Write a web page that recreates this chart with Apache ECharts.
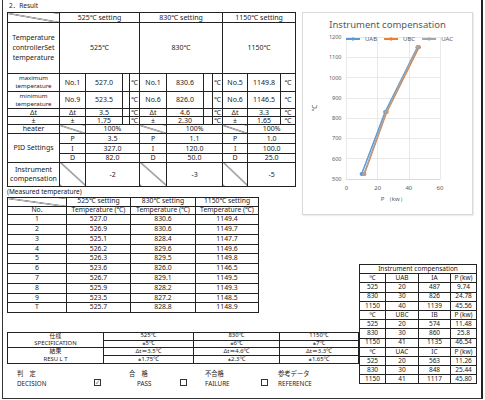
<!DOCTYPE html>
<html>
<head>
<meta charset="utf-8">
<script src="https://cdn.jsdelivr.net/npm/echarts@6/dist/echarts.min.js"></script>
<style>
html,body{margin:0;padding:0;background:#fff;}
body{width:485px;height:400px;position:relative;overflow:hidden;font-family:"Noto Sans","Noto Sans CJK JP",sans-serif;color:#222;}
.abs{position:absolute;white-space:nowrap;line-height:1;}
table{border-collapse:collapse;table-layout:fixed;position:absolute;color:#222;}
td{border:1px solid #222;padding:0;text-align:center;vertical-align:middle;overflow:hidden;white-space:nowrap;line-height:1;}
.diag{background:linear-gradient(to top right,transparent calc(50% - 0.7px),#222 50%,transparent calc(50% + 0.7px));}
.two{font-size:6.1px;line-height:1.33;}
#t1{left:7px;top:12px;font-size:7px;border:1.5px solid #111;}
#t2{left:7px;top:197px;font-size:6.8px;border:1.5px solid #111;}
#t3{left:359px;top:264px;font-size:6.5px;border:1.2px solid #111;}
#t4{left:7px;top:332px;font-size:5.9px;border:1.2px solid #111;}
#chartBox{position:absolute;left:302px;top:12px;width:171px;height:203px;box-sizing:border-box;border:1px solid #d9d9d9;box-shadow:1px 1px 1px #eee;}
#chart{width:169px;height:201px;}
.cb{position:absolute;width:5px;height:5px;border:0.8px solid #333;font-size:5px;line-height:5px;text-align:center;}
</style>
</head>
<body>
<div class="abs" style="left:2px;top:0;width:1px;height:399px;background:#333;"></div>
<div class="abs" style="left:481px;top:0;width:1.5px;height:399px;background:#222;"></div>
<div class="abs" style="left:2px;top:398px;width:481px;height:1px;background:#333;"></div>
<div class="abs" style="left:9px;top:3px;font-size:6.5px;">2．Result</div>
<div class="abs" style="left:7px;top:189px;font-size:6.5px;">(Measured temperature)</div>
<div id="chartBox"><div id="chart"></div></div>
<div id="tables"></div>
<div id="decision"></div>
<script>
// ---- data ----
const settings = ['525℃ setting', '830℃ setting', '1150℃ setting'];
const setTemps = ['525℃', '830℃', '1150℃'];
const maxNo = ['No.1', 'No.1', 'No.5'];
const maxVal = ['527.0', '830.6', '1149.8'];
const minNo = ['No.9', 'No.6', 'No.6'];
const minVal = ['523.5', '826.0', '1146.5'];
const deltaT = ['3.5', '4.6', '3.3'];
const plusMinus = ['1.75', '2.30', '1.65'];
const heater = ['100%', '100%', '100%'];
const pidP = ['3.5', '1.1', '1.0'];
const pidI = ['327.0', '120.0', '100.0'];
const pidD = ['82.0', '50.0', '25.0'];
const instComp = ['-2', '-3', '-5'];

const measuredNo = ['1', '2', '3', '4', '5', '6', '7', '8', '9', 'T'];
const measured525 = ['527.0', '526.9', '525.1', '526.2', '526.3', '523.6', '526.7', '525.9', '523.5', '525.7'];
const measured830 = ['830.6', '830.6', '828.4', '829.6', '829.5', '826.0', '829.1', '828.2', '827.2', '828.8'];
const measured1150 = ['1149.4', '1149.7', '1147.7', '1149.6', '1149.8', '1146.5', '1149.5', '1149.3', '1148.5', '1148.9'];

const compTemps = [525, 830, 1150];
const voltUAB = [20, 30, 40];
const currIA = [487, 826, 1139];
const powerUAB = [9.74, 24.78, 45.56];
const voltUBC = [20, 30, 41];
const currIB = [574, 860, 1135];
const powerUBC = [11.48, 25.8, 46.54];
const voltUAC = [20, 30, 41];
const currIC = [563, 848, 1117];
const powerUAC = [11.26, 25.44, 45.80];
const powerLabelsUAB = ['9.74', '24.78', '45.56'];
const powerLabelsUBC = ['11.48', '25.8', '46.54'];
const powerLabelsUAC = ['11.26', '25.44', '45.80'];

const specTemps = ['525℃', '830℃', '1150℃'];
const specTol = ['±5℃', '±6℃', '±7℃'];
const resultDelta = ['Δt＝3.5℃', 'Δt＝4.6℃', 'Δt＝3.3℃'];
const resultPM = ['±1.75℃', '±2.3℃', '±1.65℃'];

const xTicks = [0, 20, 40, 60];
const yTicks = [500, 600, 700, 800, 900, 1000, 1100, 1200];

// ---- top table ----
const t1Cols = [52, 26, 37, 7, 10, 27, 37, 9, 10, 25, 33, 15];
const t1Rows = [10, 50.5, 18, 16.5, 8.3, 8.3, 8.3, 10.7, 9.3, 9, 24];
function cols(ws) { return '<colgroup>' + ws.map(w => `<col style="width:${w}px">`).join('') + '</colgroup>'; }
const grpSpan = [4, 4, 3];
function rowNoVal(label, nos, vals, h, cls) {
  let s = `<tr style="height:${h}px"><td class="${cls || ''}">${label}</td>`;
  for (let g = 0; g < 3; g++) {
    s += `<td>${nos[g]}</td><td>${vals[g]}</td>`;
    if (g < 2) s += '<td></td>';
    s += '<td>℃</td>';
  }
  return s + '</tr>';
}
let t1 = `<table id="t1" style="width:${t1Cols.reduce((a,b)=>a+b,0)}px">` + cols(t1Cols);
t1 += `<tr style="height:${t1Rows[0]}px"><td class="diag"></td>` + settings.map((s, g) => `<td colspan="${grpSpan[g]}">${s}</td>`).join('') + '</tr>';
t1 += `<tr style="height:${t1Rows[1]}px"><td style="line-height:1.45">Temperature<br>controllerSet<br>temperature</td>` + setTemps.map((s, g) => `<td colspan="${grpSpan[g]}">${s}</td>`).join('') + '</tr>';
t1 += rowNoVal('maximum<br>temperature', maxNo, maxVal, t1Rows[2], 'two');
t1 += rowNoVal('minimum<br>temperature', minNo, minVal, t1Rows[3], 'two');
t1 += rowNoVal('Δt', ['Δt', 'Δt', 'Δt'], deltaT, t1Rows[4]);
t1 += rowNoVal('±', ['±', '±', '±'], plusMinus, t1Rows[5]);
t1 += `<tr style="height:${t1Rows[6]}px"><td>heater</td>` + heater.map((s, g) => `<td class="diag"></td><td colspan="${grpSpan[g]-1}">${s}</td>`).join('') + '</tr>';
const pidNames = ['P', 'I', 'D'];
const pidVals = [pidP, pidI, pidD];
for (let r = 0; r < 3; r++) {
  t1 += `<tr style="height:${t1Rows[7+r]}px">` + (r === 0 ? '<td rowspan="3">PID Settings</td>' : '') +
    pidVals[r].map((v, g) => `<td>${pidNames[r]}</td><td colspan="${grpSpan[g]-1}">${v}</td>`).join('') + '</tr>';
}
t1 += `<tr style="height:${t1Rows[10]}px"><td style="line-height:1.3">Instrument<br>compensation</td>` + instComp.map((v, g) => `<td class="diag"></td><td colspan="${grpSpan[g]-1}">${v}</td>`).join('') + '</tr>';
t1 += '</table>';

// ---- measured table ----
const t2Cols = [59, 64, 65, 63];
let t2 = `<table id="t2" style="width:251px">` + cols(t2Cols);
t2 += `<tr style="height:8.6px"><td class="diag"></td>` + settings.map(s => `<td>${s}</td>`).join('') + '</tr>';
t2 += `<tr style="height:8.6px"><td>No.</td>` + settings.map(() => `<td>Temperature (℃)</td>`).join('') + '</tr>';
for (let i = 0; i < measuredNo.length; i++) {
  t2 += `<tr style="height:9.8px"><td>${measuredNo[i]}</td><td>${measured525[i]}</td><td>${measured830[i]}</td><td>${measured1150[i]}</td></tr>`;
}
t2 += '</table>';

// ---- instrument compensation table ----
const t3Cols = [26, 33, 32, 26];
const compBlocks = [
  ['UAB', 'IA', voltUAB, currIA, powerLabelsUAB],
  ['UBC', 'IB', voltUBC, currIB, powerLabelsUBC],
  ['UAC', 'IC', voltUAC, currIC, powerLabelsUAC]
];
let t3 = `<table id="t3" style="width:117px">` + cols(t3Cols);
t3 += `<tr style="height:9.2px"><td colspan="4">Instrument compensation</td></tr>`;
compBlocks.forEach(b => {
  t3 += `<tr style="height:9.2px"><td>℃</td><td>${b[0]}</td><td>${b[1]}</td><td>P (kw)</td></tr>`;
  for (let i = 0; i < 3; i++) {
    t3 += `<tr style="height:9.2px"><td>${compTemps[i]}</td><td>${b[2][i]}</td><td>${b[3][i]}</td><td>${b[4][i]}</td></tr>`;
  }
});
t3 += '</table>';

// ---- spec table ----
const t4Cols = [96, 90, 86, 79];
const rh4 = 7.2;
let t4 = `<table id="t4" style="width:351px">` + cols(t4Cols);
t4 += `<tr style="height:${rh4}px"><td rowspan="2" style="line-height:${rh4}px">仕様<br>SPECIFICATION</td>` + specTemps.map(s => `<td>${s}</td>`).join('') + '</tr>';
t4 += `<tr style="height:${rh4}px">` + specTol.map(s => `<td>${s}</td>`).join('') + '</tr>';
t4 += `<tr style="height:${rh4}px;border-top:1.3px solid #111"><td rowspan="2" style="line-height:${rh4}px">結果<br>RESU L T</td>` + resultDelta.map(s => `<td>${s}</td>`).join('') + '</tr>';
t4 += `<tr style="height:${rh4}px">` + resultPM.map(s => `<td>${s}</td>`).join('') + '</tr>';
t4 += '</table>';

document.getElementById('tables').innerHTML = t1 + t2 + t3 + t4;

// ---- decision row ----
const decisionTop = ['判　定', '合　格', '不合格', '参考データ'];
const decisionBottom = ['DECISION', 'PASS', 'FAILURE', 'REFERENCE'];
const decTopX = [17, 129, 205, 278];
const decBotX = [17, 137, 205, 278];
let dec = '';
for (let i = 0; i < 4; i++) {
  dec += `<div class="abs" style="left:${decTopX[i]}px;top:371px;font-size:6.3px;">${decisionTop[i]}</div>`;
  dec += `<div class="abs" style="left:${decBotX[i]}px;top:381px;font-size:6.3px;">${decisionBottom[i]}</div>`;
}
dec += `<div class="cb" style="left:94px;top:379px;">✓</div>`;
dec += `<div class="cb" style="left:180px;top:379px;"></div>`;
dec += `<div class="cb" style="left:261px;top:379px;"></div>`;
document.getElementById('decision').innerHTML = dec;

// ---- chart ----
const chart = echarts.init(document.getElementById('chart'), null, { renderer: 'svg' });
const seriesNames = ['UAB', 'UBC', 'UAC'];
const seriesPowers = [powerUAB, powerUBC, powerUAC];
const seriesColors = ['#5B9BD5', '#ED7D31', '#A5A5A5'];
chart.setOption({
  animation: false,
  color: seriesColors,
  title: {
    text: 'Instrument compensation', left: 'center', top: 1,
    textStyle: { fontSize: 9.5, fontWeight: 'normal', color: '#595959', fontFamily: 'Noto Sans' }
  },
  legend: {
    data: seriesNames, left: 37, top: 18, itemWidth: 14, itemHeight: 4, itemGap: 6,
    textStyle: { fontSize: 6, color: '#595959', fontFamily: 'Noto Sans' }
  },
  grid: { left: 35, right: 32, top: 24, bottom: 35, containLabel: false },
  xAxis: {
    type: 'value', min: xTicks[0], max: xTicks[xTicks.length - 1], interval: 20,
    name: 'P （kw）', nameLocation: 'middle', nameGap: 17,
    nameTextStyle: { fontSize: 6, color: '#595959', fontFamily: 'Noto Sans' },
    axisLine: { show: true, lineStyle: { color: '#d9d9d9' } }, axisTick: { show: false },
    axisLabel: { fontSize: 6, color: '#595959', margin: 6, fontFamily: 'Noto Sans', formatter: v => String(v) },
    splitLine: { show: true, lineStyle: { color: '#e3e3e3', width: 0.8 } }
  },
  yAxis: {
    type: 'value', min: yTicks[0], max: yTicks[yTicks.length - 1], interval: 100,
    name: '℃', nameLocation: 'middle', nameGap: 20, nameRotate: 90,
    nameTextStyle: { fontSize: 7, color: '#595959', fontFamily: 'Noto Sans' },
    axisLine: { show: false }, axisTick: { show: false },
    axisLabel: { fontSize: 5.5, color: '#595959', margin: 5, fontFamily: 'Noto Sans', formatter: v => String(v) },
    splitLine: { show: true, lineStyle: { color: '#e3e3e3', width: 0.8 } }
  },
  series: seriesNames.map((n, k) => ({
    name: n, type: 'line', symbol: 'circle', symbolSize: 4,
    lineStyle: { width: 1.5 },
    data: seriesPowers[k].map((p, i) => [p, compTemps[i]])
  }))
});
</script>
</body>
</html>
